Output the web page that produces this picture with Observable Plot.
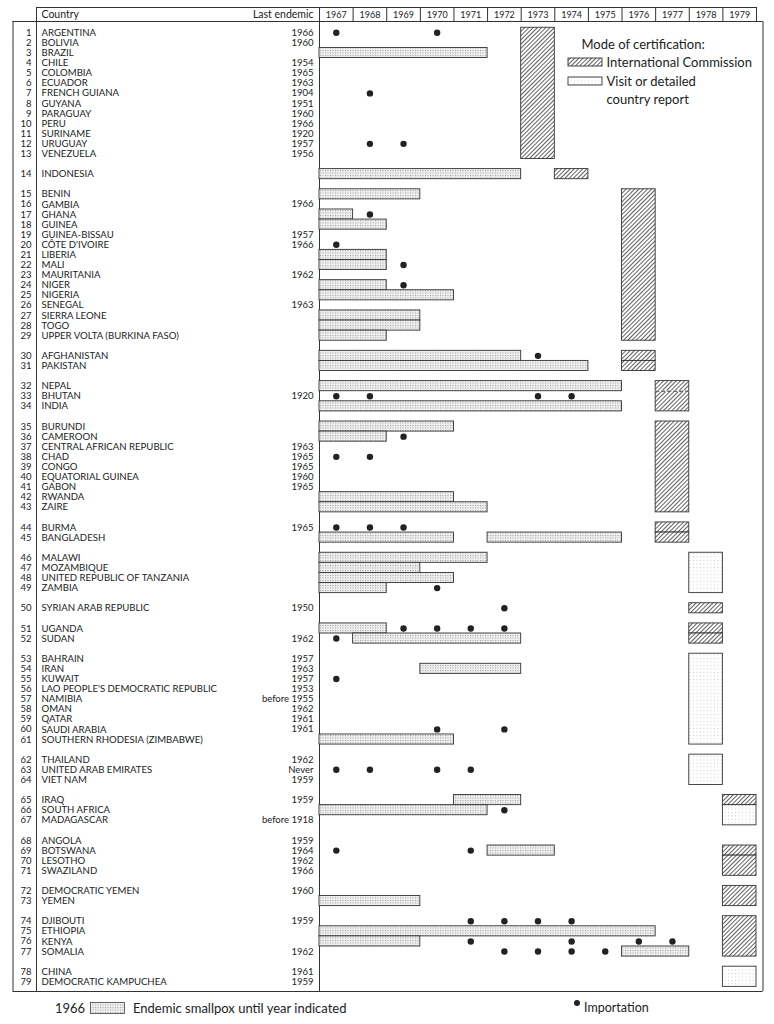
<!DOCTYPE html>
<html><head><meta charset="utf-8">
<script src="https://cdn.jsdelivr.net/npm/d3@7"></script>
<script src="https://cdn.jsdelivr.net/npm/@observablehq/plot@0.6"></script>
<style>
body{margin:0;background:#fff;font-family:Lato,"Open Sans",sans-serif;color:#222;}
#wrap{position:relative;width:774px;}
#legend{position:relative;height:28px;font-size:13px;}
#legend .t{position:absolute;white-space:nowrap;line-height:16px;}
</style></head>
<body><div id="wrap"><div id="chart"></div>
<div id="legend">
  <span class="t" style="left:55px;top:4px">1966</span>
  <svg style="position:absolute;left:90px;top:6px" width="36" height="13"><rect x="0.5" y="0.5" width="34" height="11" fill="url(#stipple)" stroke="#444" stroke-width="0.8"/></svg>
  <span class="t" style="left:133px;top:4px">Endemic smallpox until year indicated</span>
  <svg style="position:absolute;left:573px;top:3px" width="8" height="8"><circle cx="4" cy="4" r="3" fill="#222"/></svg>
  <span class="t" style="left:584px;top:4px;font-size:12.5px">Importation</span>
</div></div>
<script>
// ---------------- DATA ----------------
const years = [1967,1968,1969,1970,1971,1972,1973,1974,1975,1976,1977,1978,1979];
const countries = ["ARGENTINA","BOLIVIA","BRAZIL","CHILE","COLOMBIA","ECUADOR","FRENCH GUIANA","GUYANA","PARAGUAY","PERU","SURINAME","URUGUAY","VENEZUELA",
"INDONESIA",
"BENIN","GAMBIA","GHANA","GUINEA","GUINEA-BISSAU","CÔTE D'IVOIRE","LIBERIA","MALI","MAURITANIA","NIGER","NIGERIA","SENEGAL","SIERRA LEONE","TOGO","UPPER VOLTA (BURKINA FASO)",
"AFGHANISTAN","PAKISTAN",
"NEPAL","BHUTAN","INDIA",
"BURUNDI","CAMEROON","CENTRAL AFRICAN REPUBLIC","CHAD","CONGO","EQUATORIAL GUINEA","GABON","RWANDA","ZAIRE",
"BURMA","BANGLADESH",
"MALAWI","MOZAMBIQUE","UNITED REPUBLIC OF TANZANIA","ZAMBIA",
"SYRIAN ARAB REPUBLIC",
"UGANDA","SUDAN",
"BAHRAIN","IRAN","KUWAIT","LAO PEOPLE'S DEMOCRATIC REPUBLIC","NAMIBIA","OMAN","QATAR","SAUDI ARABIA","SOUTHERN RHODESIA (ZIMBABWE)",
"THAILAND","UNITED ARAB EMIRATES","VIET NAM",
"IRAQ","SOUTH AFRICA","MADAGASCAR",
"ANGOLA","BOTSWANA","LESOTHO","SWAZILAND",
"DEMOCRATIC YEMEN","YEMEN",
"DJIBOUTI","ETHIOPIA","KENYA","SOMALIA",
"CHINA","DEMOCRATIC KAMPUCHEA"];
const lastEndemic = ["1966","1960","","1954","1965","1963","1904","1951","1960","1966","1920","1957","1956",
"",
"","1966","","","1957","1966","","","1962","","","1963","","","",
"","",
"","1920","",
"","","1963","1965","1965","1960","1965","","",
"1965","",
"","","","",
"1950",
"","1962",
"1957","1963","1957","1953","before 1955","1962","1961","1961","",
"1962","Never","1959",
"1959","","before 1918",
"1959","1964","1962","1966",
"1960","",
"1959","","","1962",
"1961","1959"];
const groupSizes = [13,1,15,2,3,9,2,4,1,2,9,3,3,4,2,4,2];
// endemic smallpox bars: [row, first year, last year]
const endemicBars = [
  [3,1967,1971],[14,1967,1972],[15,1967,1969],[17,1967,1967],[18,1967,1968],[21,1967,1968],[22,1967,1968],
  [24,1967,1968],[25,1967,1970],[27,1967,1969],[28,1967,1969],[29,1967,1968],[30,1967,1972],[31,1967,1974],
  [32,1967,1975],[34,1967,1975],[35,1967,1970],[36,1967,1968],[42,1967,1970],[43,1967,1971],
  [45,1967,1970],[45,1972,1975],[46,1967,1971],[47,1967,1969],[48,1967,1970],[49,1967,1968],
  [51,1967,1968],[52,1968,1972],[54,1970,1972],[61,1967,1970],[65,1971,1972],[66,1967,1971],
  [69,1972,1973],[73,1967,1969],[75,1967,1976],[76,1967,1969],[77,1976,1977]
];
// importations: [row, year]
const importations = [
  [1,1967],[1,1970],[7,1968],[12,1968],[12,1969],[17,1968],[20,1967],[22,1969],[24,1969],[30,1973],
  [33,1967],[33,1968],[33,1973],[33,1974],[36,1969],[38,1967],[38,1968],[44,1967],[44,1968],[44,1969],
  [49,1970],[50,1972],[51,1969],[51,1970],[51,1971],[51,1972],[52,1967],[55,1967],[60,1970],[60,1972],
  [63,1967],[63,1968],[63,1970],[63,1971],[66,1972],[69,1967],[69,1971],
  [74,1971],[74,1972],[74,1973],[74,1974],[76,1971],[76,1974],[76,1976],[76,1977],
  [77,1972],[77,1973],[77,1974],[77,1975]
];
// certification: [first row, last row, year, mode]  IC = International Commission, V = Visit / country report
const certifications = [
  [1,13,1973,"IC"],[14,14,1974,"IC"],[15,29,1976,"IC"],[30,30,1976,"IC"],[31,31,1976,"IC"],
  [32,34,1977,"IC"],[35,43,1977,"IC"],[44,44,1977,"IC"],[45,45,1977,"IC"],
  [46,49,1978,"V"],[50,50,1978,"IC"],[51,51,1978,"IC"],[52,52,1978,"IC"],[53,61,1978,"V"],[62,64,1978,"V"],
  [65,65,1979,"IC"],[66,67,1979,"V"],[69,69,1979,"IC"],[70,71,1979,"IC"],[72,73,1979,"IC"],[74,77,1979,"IC"],[78,79,1979,"V"]
];
const dashedDividers = [[33,1977]]; // dashed line above row, in certification column

// ---------------- LAYOUT ----------------
const W = 774, H = 996;
const X0 = 319, X1 = 756;
const pxPerYear = (X1 - X0) / years.length;
const ROW0 = 32.3, STEP = 10.096, TOP = 7, BOT = 991, HEADB = 21;
const px2x = p => years[0] + (p - X0) / pxPerYear;
const px2y = p => (p - ROW0) / STEP;
const yTop = px2y(TOP), yBot = px2y(BOT);

const slotOf = [];
{ let s = 0; groupSizes.forEach((n, gi) => { if (gi > 0) s++; for (let i = 0; i < n; i++) slotOf.push(s++); }); }
const rows = countries.map((c, i) => ({num: i + 1, name: c, last: lastEndemic[i], slot: slotOf[i]}));
const sl = r => slotOf[r - 1];

const bars = endemicBars.map(([r, a, b]) => ({y1: sl(r) - 0.5, y2: sl(r) + 0.5, x1: a, x2: b + 1}));
const dots = importations.map(([r, y]) => ({x: y + 0.5, y: sl(r)}));
const certs = certifications.map(([a, b, y, m]) => ({y1: sl(a) - 0.5, y2: sl(b) + 0.5, x1: y, x2: y + 1, mode: m}));
const dividers = dashedDividers.map(([r, y]) => ({y: sl(r) - 0.5, x1: y, x2: y + 1}));

const lineColor = "#333";
const boxStroke = "#333";

const chart = Plot.plot({
  width: W, height: H,
  marginLeft: X0, marginRight: W - X1, marginTop: TOP, marginBottom: H - BOT,
  x: {domain: [years[0], years[years.length - 1] + 1], axis: null},
  y: {domain: [yTop, yBot], reverse: true, axis: null},
  style: {fontFamily: "Lato, 'Open Sans', sans-serif", fontSize: "9.5px", color: "#222", background: "white", overflow: "visible"},
  marks: [
    // table frame
    Plot.ruleX(years.concat([years[years.length - 1] + 1]), {x: d => d, y1: yTop, y2: px2y(HEADB), stroke: lineColor}),
    Plot.ruleX([years[0]], {x: d => d, y1: yTop, y2: yBot, stroke: lineColor}),
    Plot.ruleX([px2x(36)], {x: d => d, y1: yTop, y2: yBot, stroke: lineColor}),
    Plot.ruleX([px2x(12.5)], {x: d => d, y1: px2y(HEADB), y2: yBot, stroke: lineColor}),
    Plot.ruleX([px2x(762.5)], {x: d => d, y1: px2y(HEADB), y2: yBot, stroke: lineColor}),
    Plot.ruleY([yTop], {y: d => d, x1: px2x(36), x2: years[years.length - 1] + 1, stroke: lineColor}),
    Plot.ruleY([px2y(HEADB)], {y: d => d, x1: px2x(12.5), x2: px2x(762.5), stroke: lineColor}),
    Plot.ruleY([yBot], {y: d => d, x1: px2x(12.5), x2: px2x(762.5), stroke: lineColor}),
    // header
    Plot.text(years, {x: d => d + 0.5, y: px2y(14.5), text: d => String(d), fontSize: 9}),
    Plot.text(["Country"], {frameAnchor: "left", y: px2y(14), dx: -278, textAnchor: "start", text: d => d, fontSize: 10.5}),
    Plot.text(["Last endemic"], {frameAnchor: "left", y: px2y(14), dx: -6, textAnchor: "end", text: d => d, fontSize: 10.5}),
    // row labels
    Plot.text(rows, {frameAnchor: "left", y: "slot", dx: -288, textAnchor: "end", text: d => String(d.num)}),
    Plot.text(rows, {frameAnchor: "left", y: "slot", dx: -278, textAnchor: "start", text: "name", fontSize: 9.6}),
    Plot.text(rows, {frameAnchor: "left", y: "slot", dx: -6, textAnchor: "end", text: "last"}),
    // endemic bars
    Plot.rect(bars, {x1: "x1", x2: "x2", y1: "y1", y2: "y2", fill: "url(#stipple)", stroke: boxStroke, strokeWidth: 0.9}),
    // certification boxes
    Plot.rect(certs, {filter: d => d.mode === "IC", x1: "x1", x2: "x2", y1: "y1", y2: "y2", fill: "url(#hatch)", stroke: boxStroke, strokeWidth: 0.9}),
    Plot.rect(certs, {filter: d => d.mode === "V", x1: "x1", x2: "x2", y1: "y1", y2: "y2", fill: "url(#visit)", stroke: boxStroke, strokeWidth: 0.9}),
    Plot.ruleY(dividers, {y: "y", x1: "x1", x2: "x2", stroke: "white", strokeWidth: 1.2}),
    Plot.ruleY(dividers, {y: "y", x1: "x1", x2: "x2", stroke: boxStroke, strokeWidth: 1, strokeDasharray: "4,2"}),
    // importations
    Plot.dot(dots, {x: "x", y: "y", r: 3.2, fill: "#222", stroke: null}),
    // certification legend
    Plot.text(["Mode of certification:"], {x: px2x(581), y: px2y(44.5), text: d => d, textAnchor: "start", fontSize: 13}),
    Plot.rect([0], {x1: px2x(568), x2: px2x(602), y1: px2y(58), y2: px2y(66), fill: "url(#hatch)", stroke: boxStroke, strokeWidth: 0.9}),
    Plot.text(["International Commission"], {x: px2x(606), y: px2y(62.5), text: d => d, textAnchor: "start", fontSize: 13}),
    Plot.rect([0], {x1: px2x(568), x2: px2x(602), y1: px2y(77), y2: px2y(85), fill: "url(#visit)", stroke: boxStroke, strokeWidth: 0.9}),
    Plot.text(["Visit or detailed"], {x: px2x(606), y: px2y(81.5), text: d => d, textAnchor: "start", fontSize: 13}),
    Plot.text(["country report"], {x: px2x(606), y: px2y(99), text: d => d, textAnchor: "start", fontSize: 13})
  ]
});

// fill patterns
const defs = d3.select(chart).insert("defs", ":first-child");
const st = defs.append("pattern").attr("id", "stipple").attr("patternUnits", "userSpaceOnUse").attr("width", 2.5).attr("height", 2.5);
st.append("rect").attr("width", 2.5).attr("height", 2.5).attr("fill", "#f0f0f0");
st.append("rect").attr("width", 1).attr("height", 1).attr("fill", "#9a9a9a");
const ht = defs.append("pattern").attr("id", "hatch").attr("patternUnits", "userSpaceOnUse").attr("width", 3).attr("height", 3).attr("patternTransform", "rotate(45)");
ht.append("rect").attr("width", 3).attr("height", 3).attr("fill", "white");
ht.append("line").attr("x1", 0.5).attr("y1", 0).attr("x2", 0.5).attr("y2", 3).attr("stroke", "#444").attr("stroke-width", 0.85);
const vt = defs.append("pattern").attr("id", "visit").attr("patternUnits", "userSpaceOnUse").attr("width", 3.5).attr("height", 3.5);
vt.append("rect").attr("width", 3.5).attr("height", 3.5).attr("fill", "white");
vt.append("rect").attr("width", 0.9).attr("height", 0.9).attr("fill", "#c4c4c4");

document.getElementById("chart").appendChild(chart);
</script>
</body></html>
